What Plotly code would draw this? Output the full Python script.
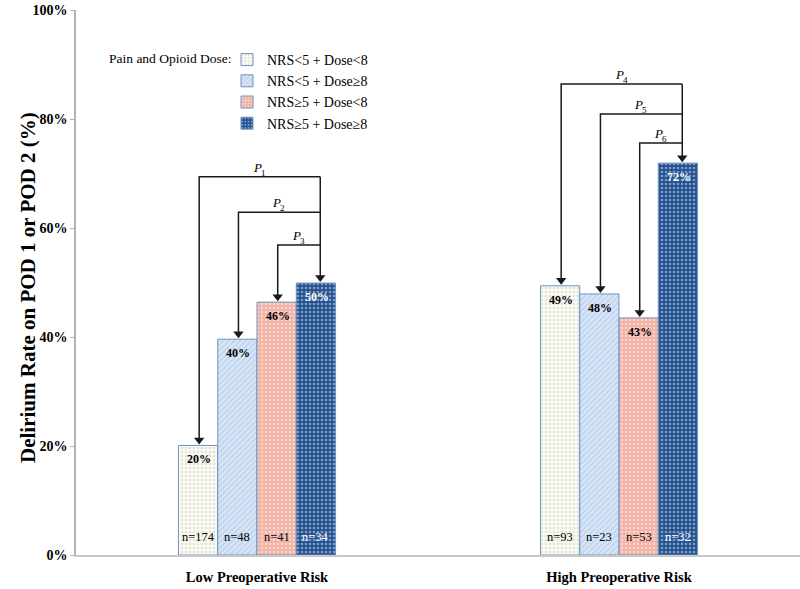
import plotly.graph_objects as go

categories = ["Low Preoperative Risk", "High Preoperative Risk"]
series_names = ["NRS<5 + Dose<8", "NRS<5 + Dose≥8", "NRS≥5 + Dose<8", "NRS≥5 + Dose≥8"]
rates = [[20.1, 49.4], [39.6, 47.9], [46.4, 43.5], [49.9, 71.9]]
rate_labels = [["20%", "49%"], ["40%", "48%"], ["46%", "43%"], ["50%", "72%"]]
n_counts = [[174, 93], [48, 23], [41, 53], [34, 32]]
# bracket heights (%) for comparisons vs. NRS>=5 + Dose>=8, per group
bracket_heights = [[69.4, 62.9, 56.9], [86.4, 80.9, 75.6]]
p_labels = [["1", "2", "3"], ["4", "5", "6"]]
y_ticks = [0, 20, 40, 60, 80, 100]
y_tick_text = ["0%", "20%", "40%", "60%", "80%", "100%"]

bg_colors = ["#fbfbf4", "#c3d7f0", "#f3b3a6", "#22528d"]
fg_colors = ["#e4e2d6", "#e3ecf8", "#f9d6ce", "#7f9cc8"]
shapes_p = [".", "/", ".", "."]
text_colors = ["black", "black", "black", "white"]

FONT = "Liberation Serif"
LINE = "#1a1a1a"
bargap = 0.566
nser = len(series_names)
w = (1 - bargap) / nser
offsets = [(i - (nser - 1) / 2) * w for i in range(nser)]

# plot area on screen: x 76..800, y 10..555
PL, PR, PT, PB = 76, 800, 10, 555
FIG_W, FIG_H = 800, 589


def px_x(px):
    return (px - PL) / (PR - PL)


def px_y(py):
    return (PB - py) / (PB - PT)


fig = go.Figure()
for i, name in enumerate(series_names):
    fig.add_trace(go.Bar(
        x=categories, y=rates[i], name=name,
        marker=dict(color=bg_colors[i],
                    line=dict(color="#6f93c4", width=1),
                    pattern=dict(shape=shapes_p[i], bgcolor=bg_colors[i],
                                 fgcolor=fg_colors[i], size=4, solidity=0.35,
                                 fillmode="replace")),
        hoverinfo="skip",
    ))

ann = []
line_x, line_y = [], []
tip_x, tip_y = [], []
head_off = 1.0  # data units so the triangle tip touches the bar top
for g in range(len(categories)):
    for i in range(nser):
        xc = g + offsets[i]
        ann.append(dict(x=xc, y=rates[i][g], xref="x", yref="y", text=rate_labels[i][g],
                        showarrow=False, yshift=-14, xshift=1,
                        font=dict(family=FONT, size=12, weight="bold", color=text_colors[i])))
        ann.append(dict(x=xc, y=0, xref="x", yref="y", text="n=%d" % n_counts[i][g],
                        showarrow=False, yshift=18, font=dict(family=FONT, size=12.5, color=text_colors[i])))
    xr = g + offsets[-1] + 0.012
    top = bracket_heights[g][0]
    line_x += [xr, xr, None]
    line_y += [top, rates[-1][g] + head_off, None]
    tip_x.append(xr)
    tip_y.append(rates[-1][g] + head_off)
    for k in range(3):
        xl = g + offsets[k] + 0.003
        h = bracket_heights[g][k]
        line_x += [xl, xl, xr, None]
        line_y += [rates[k][g] + head_off, h, h, None]
        tip_x.append(xl)
        tip_y.append(rates[k][g] + head_off)
        xm = (xl + xr) / 2
        ann.append(dict(x=xm, y=h, xref="x", yref="y", yanchor="bottom", xanchor="right",
                        text="P", showarrow=False, yshift=0, xshift=4,
                        font=dict(family=FONT, size=13, style="italic", color="black")))
        ann.append(dict(x=xm, y=h, xref="x", yref="y", yanchor="bottom", xanchor="left",
                        text=p_labels[g][k], showarrow=False, yshift=-3, xshift=-1,
                        font=dict(family=FONT, size=9, color="black")))

fig.add_trace(go.Scatter(x=line_x, y=line_y, mode="lines", line=dict(color=LINE, width=1.5),
                         showlegend=False, hoverinfo="skip", xaxis="x2"))
fig.add_trace(go.Scatter(x=tip_x, y=tip_y, mode="markers",
                         marker=dict(symbol="triangle-down", size=9, color=LINE, line=dict(width=0)),
                         showlegend=False, hoverinfo="skip", xaxis="x2"))

ann.append(dict(x=px_x(28), y=px_y(288), xref="paper", yref="paper", textangle=-90, showarrow=False,
                xanchor="center", yanchor="middle",
                text="Delirium Rate on POD 1 or POD 2 (%)",
                font=dict(family=FONT, size=21, weight="bold", color="black")))
ann.append(dict(x=px_x(107), y=px_y(58), xref="paper", yref="paper", showarrow=False,
                xanchor="left", yanchor="middle", text="Pain and Opioid Dose:",
                font=dict(family=FONT, size=13.5, color="black")))

fig.update_layout(
    width=FIG_W, height=FIG_H,
    margin=dict(l=PL, r=FIG_W - PR, t=PT, b=FIG_H - PB),
    paper_bgcolor="white", plot_bgcolor="white",
    barmode="group", bargap=bargap, bargroupgap=0,
    font=dict(family=FONT, color="black"),
    showlegend=True,
    legend=dict(x=px_x(227), y=px_y(44), xanchor="left", yanchor="top",
                font=dict(family=FONT, size=14), itemwidth=30, bgcolor="rgba(0,0,0,0)"),
    annotations=ann,
    xaxis2=dict(overlaying="x", range=[-0.5, 1.5], visible=False, automargin=False),
)
fig.update_yaxes(range=[0, 100], tickvals=y_ticks, ticktext=y_tick_text, automargin=False,
                 showgrid=False, zeroline=False, showline=True, linecolor="#b3b3b3", linewidth=1.5,
                 ticks="outside", ticklen=4, tickcolor="#b3b3b3", ticklabeloverflow="allow",
                 tickfont=dict(family=FONT, size=14, weight="bold", color="black"))
fig.update_layout(xaxis=dict(showline=True, linecolor="#c8c8c8", linewidth=2, ticks="", automargin=False,
                             showgrid=False, ticklabelstandoff=8,
                             tickfont=dict(family=FONT, size=14.5, weight="bold", color="black")))

fig.write_html("out.html", config={"displayModeBar": False},
               post_script="document.body.style.margin='0';")
